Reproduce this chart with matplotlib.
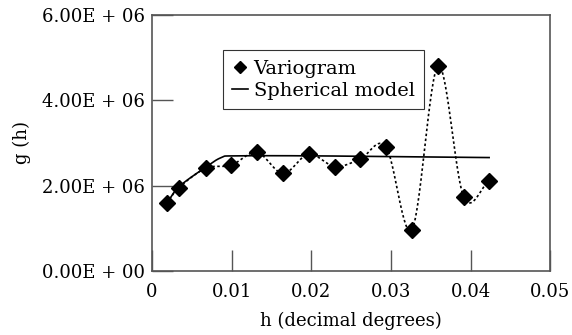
import numpy as np
import matplotlib
matplotlib.use("Agg")
import matplotlib.pyplot as plt
from matplotlib.lines import Line2D
from matplotlib.ticker import FuncFormatter

# variogram points
lag = [0.00184, 0.00339, 0.00674, 0.00991, 0.01317, 0.01644, 0.01966,
       0.02292, 0.0261, 0.02936, 0.03262, 0.0359, 0.0391, 0.0423]
gamma = [1.59e6, 1.96e6, 2.41e6, 2.48e6, 2.78e6, 2.29e6, 2.74e6,
         2.45e6, 2.62e6, 2.91e6, 0.98e6, 4.80e6, 1.75e6, 2.11e6]

# spherical model line
model_lag = [0.00184, 0.0034, 0.0067, 0.0087, 0.0105, 0.020, 0.030, 0.0423]
model_gamma = [1.59e6, 1.98e6, 2.43e6, 2.66e6, 2.70e6, 2.70e6, 2.68e6, 2.66e6]

xticks = [0, 0.01, 0.02, 0.03, 0.04, 0.05]
yticks = [0, 2e6, 4e6, 6e6]


def smooth(x, y, n=30):
    # catmull-rom curve through the points (like a spreadsheet "smoothed line")
    x = np.asarray(x, float)
    y = np.asarray(y, float)
    px = np.concatenate([[2*x[0]-x[1]], x, [2*x[-1]-x[-2]]])
    py = np.concatenate([[2*y[0]-y[1]], y, [2*y[-1]-y[-2]]])
    t = np.linspace(0, 1, n)
    xs, ys = [], []
    for i in range(1, len(px)-2):
        for p, out in ((px, xs), (py, ys)):
            p0, p1, p2, p3 = p[i-1], p[i], p[i+1], p[i+2]
            out.extend(0.5*((2*p1) + (-p0+p2)*t + (2*p0-5*p1+4*p2-p3)*t**2
                            + (-p0+3*p1-3*p2+p3)*t**3))
    return np.array(xs), np.array(ys)


plt.rcParams['font.family'] = ['DejaVu Serif']

fig = plt.figure(figsize=(5.72, 3.35), dpi=100)
ax = fig.add_axes([0.2657, 0.1896, 0.6967, 0.7671])

sx, sy = smooth(lag, gamma)
ax.plot(sx, sy, color="black", lw=1.2, ls=(0, (1.5, 1.5)))
ax.plot(lag, gamma, "D", color="black", ms=8, ls="none")
mx, my = smooth(model_lag, model_gamma)
ax.plot(mx, my, color="black", lw=1.2)

ax.set_xlim(0, 0.05)
ax.set_ylim(0, 6e6)
ax.set_xticks(xticks)
ax.set_yticks(yticks)
ax.xaxis.set_major_formatter(FuncFormatter(lambda v, p: "0" if v == 0 else "%.2f" % v))
ax.yaxis.set_major_formatter(FuncFormatter(lambda v, p: "%.2fE + 0%d" % (v/1e6, 0 if v == 0 else 6)))
ax.tick_params(direction="in", length=15, width=1, color="#555555", labelsize=13, pad=5)
ax.tick_params(axis="x", pad=8)
for s in ax.spines.values():
    s.set_color("#555555")
    s.set_linewidth(1.2)

ax.set_xlabel("h (decimal degrees)", fontsize=13, labelpad=8)
ax.set_ylabel("g (h)", fontsize=13, labelpad=8)

handles = [Line2D([], [], marker="D", color="black", ls="none", ms=6.5),
           Line2D([], [], color="black", lw=1.2)]
leg = ax.legend(handles, ["Variogram", "Spherical model"], loc="upper left",
                bbox_to_anchor=(0.177, 0.862), borderaxespad=0, fontsize=14,
                handlelength=0.8, handletextpad=0.3, fancybox=False,
                frameon=True, borderpad=0.5, labelspacing=0.2)
leg.get_frame().set_edgecolor("black")
leg.get_frame().set_linewidth(0.8)

fig.savefig("out.png", dpi=100)
